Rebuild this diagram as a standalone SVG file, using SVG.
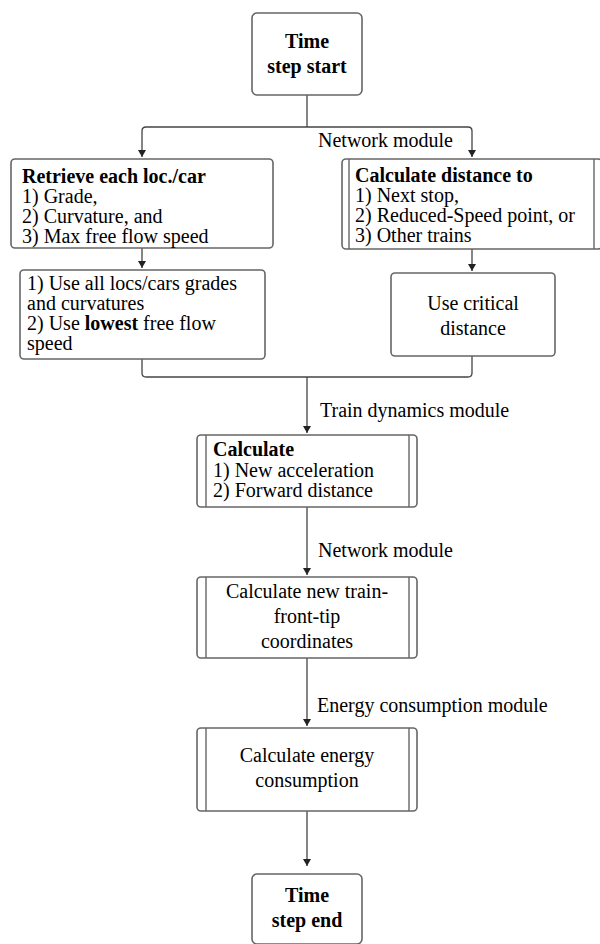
<svg xmlns="http://www.w3.org/2000/svg" width="600" height="944" viewBox="0 0 600 944">
<style>
.box{fill:#fff;stroke:#666;stroke-width:1.6}
.in{stroke:#666;stroke-width:1.4;fill:none}
.c{fill:none;stroke:#444;stroke-width:1.3}
text{font-family:"Liberation Serif","Times New Roman",serif;font-size:20px;fill:#000}
.b{font-weight:bold}
.m{text-anchor:middle}
</style>
<defs>
<marker id="a" markerWidth="8" markerHeight="10" refX="7" refY="5" orient="auto" markerUnits="userSpaceOnUse"><path d="M0,1 L7,5 L0,9 Z" fill="#222"/></marker>
</defs>
<g id="connectors">
<path class="c" d="M307,95 V127"/>
<path class="c" d="M307,127 H146 Q142,127 142,131 V157" marker-end="url(#a)"/>
<path class="c" d="M307,127 H468 Q472,127 472,131 V157" marker-end="url(#a)"/>
<path class="c" d="M142,248 V268" marker-end="url(#a)"/>
<path class="c" d="M472,249 V271" marker-end="url(#a)"/>
<path class="c" d="M142,359 V373 Q142,377 146,377 H468 Q472,377 472,373 V356"/>
<path class="c" d="M307,377 V433" marker-end="url(#a)"/>
<path class="c" d="M307,507 V575" marker-end="url(#a)"/>
<path class="c" d="M307,658 V726" marker-end="url(#a)"/>
<path class="c" d="M307,811 V866" marker-end="url(#a)"/>
<text x="318" y="147">Network module</text>
<text x="320" y="417">Train dynamics module</text>
<text x="318" y="557">Network module</text>
<text x="317" y="712">Energy consumption module</text>
</g>
<g id="start">
<rect class="box" x="252" y="13" width="110" height="82" rx="5"/>
<text class="b m" x="307" y="48">Time</text>
<text class="b m" x="307" y="73">step start</text>
</g>
<g id="retrieve">
<rect class="box" x="11" y="159" width="262" height="89" rx="4"/>
<text x="22" y="183" class="b">Retrieve each loc./car</text>
<text x="22" y="203">1) Grade,</text>
<text x="22" y="223">2) Curvature, and</text>
<text x="22" y="243">3) Max free flow speed</text>
</g>
<g id="calcdist">
<rect class="box" x="342" y="159" width="260" height="90" rx="4"/>
<line class="in" x1="349" y1="159" x2="349" y2="249"/>
<line class="in" x1="594" y1="159" x2="594" y2="249"/>
<text x="355" y="182" class="b">Calculate distance to</text>
<text x="355" y="202">1) Next stop,</text>
<text x="355" y="222">2) Reduced-Speed point, or</text>
<text x="355" y="242">3) Other trains</text>
</g>
<g id="useall">
<rect class="box" x="20" y="270" width="245" height="89" rx="4"/>
<text x="27" y="290">1) Use all locs/cars grades</text>
<text x="27" y="310">and curvatures</text>
<text x="27" y="330">2) Use <tspan class="b">lowest</tspan> free flow</text>
<text x="27" y="350">speed</text>
</g>
<g id="critical">
<rect class="box" x="391" y="273" width="164" height="83" rx="4"/>
<text class="m" x="473" y="310">Use critical</text>
<text class="m" x="473" y="335">distance</text>
</g>
<g id="calcacc">
<rect class="box" x="197" y="435" width="220" height="72" rx="4"/>
<line class="in" x1="206" y1="435" x2="206" y2="507"/>
<line class="in" x1="409" y1="435" x2="409" y2="507"/>
<text x="213" y="456" class="b">Calculate</text>
<text x="213" y="477">1) New acceleration</text>
<text x="213" y="497">2) Forward distance</text>
</g>
<g id="coords">
<rect class="box" x="197" y="577" width="220" height="81" rx="4"/>
<line class="in" x1="206" y1="577" x2="206" y2="658"/>
<line class="in" x1="409" y1="577" x2="409" y2="658"/>
<text class="m" x="307" y="598">Calculate new train-</text>
<text class="m" x="307" y="623">front-tip</text>
<text class="m" x="307" y="648">coordinates</text>
</g>
<g id="energy">
<rect class="box" x="197" y="728" width="220" height="83" rx="4"/>
<line class="in" x1="206" y1="728" x2="206" y2="811"/>
<line class="in" x1="409" y1="728" x2="409" y2="811"/>
<text class="m" x="307" y="762">Calculate energy</text>
<text class="m" x="307" y="787">consumption</text>
</g>
<g id="end">
<rect class="box" x="252" y="874" width="110" height="70" rx="5"/>
<text class="b m" x="307" y="902">Time</text>
<text class="b m" x="307" y="927">step end</text>
</g>
</svg>
